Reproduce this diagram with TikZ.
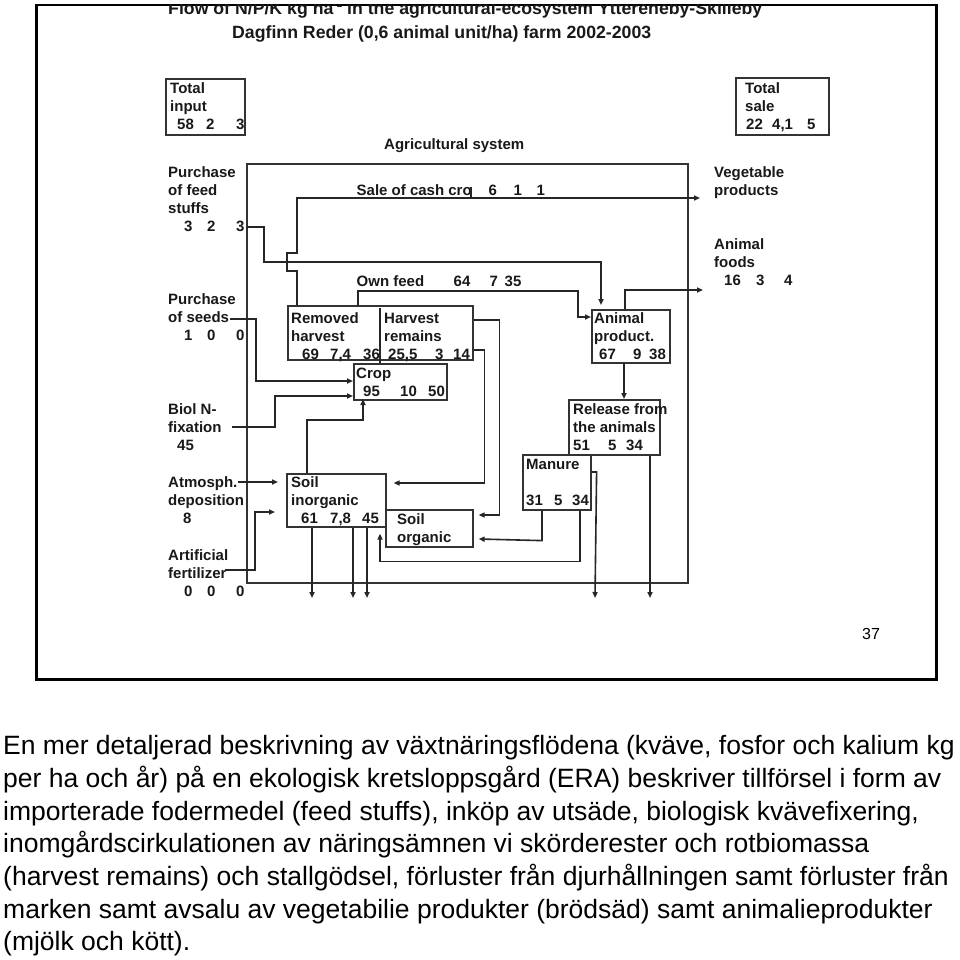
\documentclass[tikz,border=0pt]{standalone}
\usepackage{fontspec}
\setmainfont{Liberation Sans}
\usetikzlibrary{calc,arrows.meta}
\newcommand\firstl{\rule{0pt}{11pt}}
\newcommand\putat[2]{\rlap{\kern#1pt #2}}
\tikzset{
  lbl/.style={font=\bfseries\fontsize{15}{18}\selectfont, align=left, inner sep=0pt, anchor=north west, text=black!90},
  lblb/.style={font=\bfseries\fontsize{15}{18}\selectfont, inner sep=0pt, anchor=base west, text=black!90},
  bx/.style={draw=black!80, line width=1.6pt, inner sep=0pt, anchor=north west},
  ln/.style={draw=black!85, line width=1.6pt},
  ar/.style={ln, -{Triangle[length=6pt,width=5pt]}},
  ttl/.style={font=\bfseries\fontsize{17.7}{21}\selectfont, inner sep=0pt, anchor=base west, text=black!90},
}
\begin{document}
\begin{tikzpicture}[x=1pt,y=-1pt]
\useasboundingbox (0,0) rectangle (960,960);
\fill[white] (0,0) rectangle (960,960);

% frame
\draw[black!35, line width=1.5pt] (38,680) -- (937.5,680) -- (937.5,7);
\node[draw, line width=2.5pt, minimum width=900pt, minimum height=674pt, anchor=north west, inner sep=0pt] (frame) at (35,4) {};

% titles
\begin{scope}
\clip (0,5) rectangle (960,960);
\node[ttl] (titleA) at (168,14.5) {Flow of N/P/K kg ha\raisebox{7pt}{\fontsize{10}{10}\selectfont -1} in the agricultural-ecosystem Yttereneby-Skilleby};
\end{scope}
\node[ttl] (titleB) at (232,38.3) {Dagfinn Reder (0,6 animal unit/ha) farm 2002-2003};

% boxes
\node[bx, minimum width=79pt, minimum height=56pt] (tin) at (165,78) {};
\node[bx, minimum width=93pt, minimum height=57pt] (tsale) at (735,77) {};
\node[bx, minimum width=441pt, minimum height=419pt] (agri) at (246,163) {};
\node[bx, minimum width=185pt, minimum height=54pt] (rh) at (287,305) {};
\node[bx, minimum width=93pt, minimum height=36pt] (crop) at (353,363) {};
\node[bx, minimum width=78pt, minimum height=53pt] (anim) at (591,309) {};
\node[bx, minimum width=91pt, minimum height=55pt] (rel) at (568,399) {};
\node[bx, minimum width=68pt, minimum height=55pt] (man) at (522,454) {};
\node[bx, minimum width=99pt, minimum height=53pt] (si) at (286,473) {};
\node[bx, minimum width=87pt, minimum height=37pt] (so) at (385,509) {};

% labels
\node[lbl] (tinT) at (170,82.5) {\firstl Total\\input\\\putat{7}{58}\putat{36}{2}\putat{66}{3}};
\node[lbl] (tsaleT) at (745,82.5) {\firstl Total\\sale\\\putat{1}{22}\putat{27}{4,1}\putat{62}{5}};
\node[lblb] (agriT) at (384,149.5) {Agricultural system};
\node[lbl] (feedT) at (168,166.5) {\firstl Purchase\\of feed\\stuffs\\\putat{16}{3}\putat{39}{2}\putat{68}{3}};
\node[lbl] (seedsT) at (168,293.5) {\firstl Purchase\\of seeds\\\putat{16}{1}\putat{39}{0}\putat{68}{0}};
\node[lbl] (biolT) at (168,403.5) {\firstl Biol N-\\fixation\\\putat{9}{45}};
\node[lbl] (atmT) at (168,476.5) {\firstl Atmosph.\\deposition\\\putat{15}{8}};
\node[lbl] (artT) at (168,549.5) {\firstl Artificial\\fertilizer\\\putat{16}{0}\putat{39}{0}\putat{68}{0}};
\node[lbl] (vegT) at (714,166.5) {\firstl Vegetable\\products};
\node[lbl] (afT) at (714,238.5) {\firstl Animal\\foods\\\putat{10}{16}\putat{42}{3}\putat{70}{4}};
\node[lblb] (saleT) at (356,195.5) {\rlap{Sale of cash cro}\putat{132}{6}\putat{157}{1}\putat{180}{1}};
\node[lblb] (ownT) at (356,286.5) {\rlap{Own feed}\putat{97}{64}\putat{133}{7}\putat{148}{35}};
\node[lbl] (rmT) at (291,312.5) {\firstl Removed\\harvest\\\putat{11}{69}\putat{39}{7,4}\putat{72}{36}};
\node[lbl] (hrT) at (384,312.5) {\firstl Harvest\\remains\\\putat{4}{25,5}\putat{51}{3}\putat{69}{14}};
\node[lbl] (cropT) at (356,367.5) {\firstl Crop\\\putat{7}{95}\putat{44}{10}\putat{72}{50}};
\node[lbl] (animT) at (594,312.5) {\firstl Animal\\product.\\\putat{5}{67}\putat{39}{9}\putat{55}{38}};
\node[lbl] (relT) at (573,403.5) {\firstl Release from\\the animals\\\putat{0}{51}\putat{35}{5}\putat{53}{34}};
\node[lbl] (manT) at (526,458.5) {\firstl Manure\\\mbox{}\\\putat{0}{31}\putat{28}{5}\putat{46}{34}};
\node[lbl] (siT) at (291,476.5) {\firstl Soil\\inorganic\\\putat{10}{61}\putat{39}{7,8}\putat{71}{45}};
\node[lbl] (soT) at (397,513.5) {\firstl Soil\\organic};

% free ends
\coordinate (seedsE) at (230,319);
\coordinate (biolE) at (232,427);
\coordinate (atmE) at (238,482);
\coordinate (artE) at (225,570);
\coordinate (vegE) at (700,198);
\coordinate (afE) at (703,290);
\coordinate (l1) at (312,598);
\coordinate (l2) at (353,598);
\coordinate (l3) at (367,598);
\coordinate (l4) at (595,598);
\coordinate (l5) at (650,598);

% divider in harvest box
\draw[ln] ($(rh.north west)+(93,3)$) -- ($(crop.north west)+(27,0)$);
% tick after "cro"
\draw[ln] (471,187) -- (471,199);

% connectors
\draw[ar] ($(agri.north west)+(0,64)$) -- ++(18,0) -- ++(0,35) -- ($(anim.north west)+(10,-47)$) -- ($(anim.north west)+(10,-4)$);
\draw[ar] ($(rh.north west)+(10,0)$) -- ++(0,-34) -- ++(-10,0) -- ++(0,-18) -- ++(10,0) -- ++(0,-55) -- (vegE);
\draw[ar] ($(rh.north west)+(71,0)$) -- ++(0,-14) -- ++(220,0) -- ++(0,26) -- ($(anim.north west)+(0,8)$);
\draw[ar] ($(anim.north west)+(34,0)$) -- ++(0,-19) -- (afE);
\draw[ar] ($(anim.south west)+(33,0)$) -- ($(rel.north west)+(56,0)$);
\draw[ar] (seedsE) -- ++(26,0) -- ++(0,62) -- ($(crop.north west)+(0,18)$);
\draw[ar] (biolE) -- ++(43,0) -- ++(0,-31) -- ($(crop.north west)+(0,33)$);
\draw[ar] ($(si.north west)+(21,0)$) -- ++(0,-53) -- ++(56,0) -- ($(crop.north west)+(10,36)$);
\draw[ar] (atmE) -- ($(si.north west)+(-8,9)$);
\draw[ar] (artE) -- ++(30,0) -- ++(0,-58) -- ($(si.north west)+(-11,39)$);
\draw[ar] ($(rh.north east)+(0,45)$) -- ++(11,0) -- ++(0,133) -- ($(si.north east)+(7,10)$);
\draw[ar] ($(rh.north east)+(0,15)$) -- ++(26,0) -- ++(0,195) -- ($(so.north east)+(5,6)$);
\draw[ar] ($(man.south west)+(20,0)$) -- ++(0,30) -- ($(so.north east)+(5,30)$);
\draw[ar] ($(man.south west)+(58,0)$) -- ++(0,51) -- ++(-200,0) -- ($(si.south west)+(94,6)$);
\draw[ar] ($(si.south west)+(26,0)$) -- (l1);
\draw[ar] ($(si.south west)+(67,0)$) -- (l2);
\draw[ar] ($(si.south west)+(81,0)$) -- (l3);
\draw[ar] ($(man.north east)+(0,18)$) -- ++(5,0) -- (l4);
\draw[ar] ($(rel.south west)+(82,0)$) -- (l5);

% page number
\node[font=\fontsize{16}{16}\selectfont, inner sep=0pt, anchor=base west] (pageT) at (862,639) {37};

% body text
\node[font=\fontsize{26.5}{32.7}\selectfont, align=left, inner sep=0pt, anchor=north west] (bodyT) at (3,732.5) {\rule{0pt}{22pt}En mer detaljerad beskrivning av växtnäringsflödena (kväve, fosfor och kalium kg\\
per ha och år) på en ekologisk kretsloppsgård (ERA) beskriver tillförsel i form av\\
importerade fodermedel (feed stuffs), inköp av utsäde, biologisk kvävefixering,\\
inomgårdscirkulationen av näringsämnen vi skörderester och rotbiomassa\\
(harvest remains) och stallgödsel, förluster från djurhållningen samt förluster från\\
marken samt avsalu av vegetabilie produkter (brödsäd) samt animalieprodukter\\
(mjölk och kött).};
\end{tikzpicture}
\end{document}
